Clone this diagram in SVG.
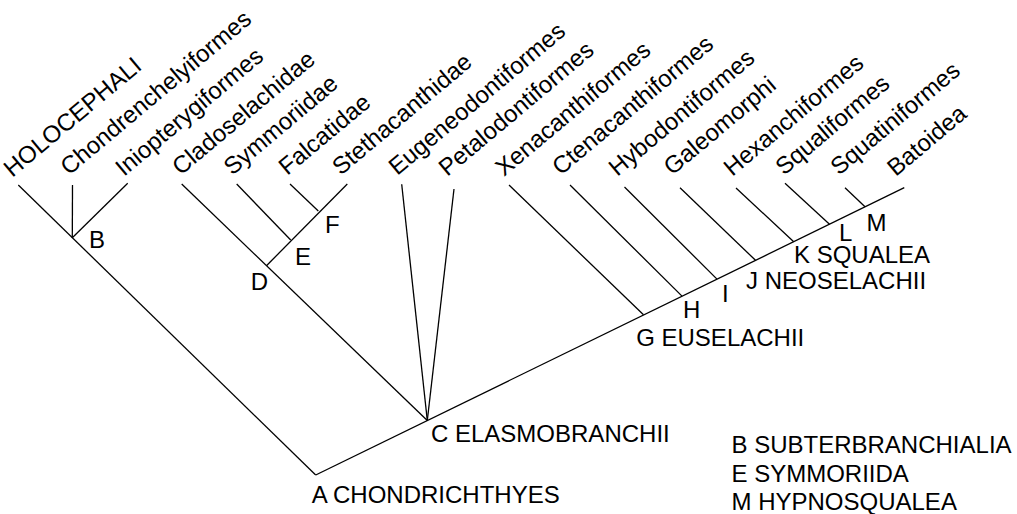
<svg xmlns="http://www.w3.org/2000/svg" width="1017" height="514" viewBox="0 0 1017 514">
<style>
text{font-family:"Liberation Sans",Arial,Helvetica,sans-serif;font-size:24px;fill:#000}
.e line{stroke:#000;stroke-width:1.3;fill:none;stroke-linecap:butt}
</style>
<rect width="1017" height="514" fill="#fff"/>
<g id="connectors" class="e">
<line x1="315.7" y1="475" x2="904.3" y2="187.7"/>
<line x1="315.7" y1="475" x2="18.3" y2="185"/>
<line x1="72.3" y1="237.7" x2="72.5" y2="185"/>
<line x1="72.3" y1="237.7" x2="127.7" y2="183.3"/>
<line x1="427.3" y1="420.5" x2="181.7" y2="184"/>
<line x1="266.7" y1="265.5" x2="347.3" y2="184"/>
<line x1="290.7" y1="240" x2="236.7" y2="184"/>
<line x1="318.3" y1="211" x2="290" y2="184"/>
<line x1="427.3" y1="420.5" x2="401.7" y2="184.3"/>
<line x1="427.3" y1="420.5" x2="454" y2="189"/>
<line x1="643.5" y1="314.8" x2="509" y2="185"/>
<line x1="682" y1="296.1" x2="570" y2="185"/>
<line x1="717" y1="279.1" x2="624.5" y2="187"/>
<line x1="755.5" y1="260.3" x2="680" y2="187.7"/>
<line x1="793.7" y1="241.7" x2="736" y2="188"/>
<line x1="829.5" y1="224.2" x2="785" y2="183.3"/>
<line x1="865" y1="206.8" x2="845" y2="187.7"/>
</g>
<g id="HOLOCEPHALI"><text transform="translate(12.3,178) rotate(-40)">HOLOCEPHALI</text></g>
<g id="Chondrenchelyiformes"><text transform="translate(69,176) rotate(-40)">Chondrenchelyiformes</text></g>
<g id="Iniopterygiformes"><text transform="translate(124,177) rotate(-40)">Iniopterygiformes</text></g>
<g id="Cladoselachidae"><text transform="translate(180.7,176) rotate(-40)">Cladoselachidae</text></g>
<g id="Symmoriidae"><text transform="translate(232.3,176) rotate(-40)">Symmoriidae</text></g>
<g id="Falcatidae"><text transform="translate(287.3,176) rotate(-40)">Falcatidae</text></g>
<g id="Stethacanthidae"><text transform="translate(340.7,176) rotate(-40)">Stethacanthidae</text></g>
<g id="Eugeneodontiformes"><text transform="translate(397.3,176) rotate(-40)">Eugeneodontiformes</text></g>
<g id="Petalodontiformes"><text transform="translate(447.3,177) rotate(-40)">Petalodontiformes</text></g>
<g id="Xenacanthiformes"><text transform="translate(504,177) rotate(-40)">Xenacanthiformes</text></g>
<g id="Ctenacanthiformes"><text transform="translate(560.7,176) rotate(-40)">Ctenacanthiformes</text></g>
<g id="Hybodontiformes"><text transform="translate(617.3,177) rotate(-40)">Hybodontiformes</text></g>
<g id="Galeomorphi"><text transform="translate(672.3,176) rotate(-40)">Galeomorphi</text></g>
<g id="Hexanchiformes"><text transform="translate(732.3,177) rotate(-40)">Hexanchiformes</text></g>
<g id="Squaliformes"><text transform="translate(784,176) rotate(-40)">Squaliformes</text></g>
<g id="Squatiniformes"><text transform="translate(839,176) rotate(-40)">Squatiniformes</text></g>
<g id="Batoidea"><text transform="translate(895.7,177) rotate(-40)">Batoidea</text></g>
<g id="node-A"><text x="311.7" y="503.3">A CHONDRICHTHYES</text></g>
<g id="node-B"><text x="89" y="248.3">B</text></g>
<g id="node-C"><text x="431" y="441.7">C ELASMOBRANCHII</text></g>
<g id="node-D"><text x="250.8" y="290">D</text></g>
<g id="node-E"><text x="294.9" y="265">E</text></g>
<g id="node-F"><text x="324.9" y="233.3">F</text></g>
<g id="node-G"><text x="636.2" y="346">G EUSELACHII</text></g>
<g id="node-H"><text x="683" y="318.3">H</text></g>
<g id="node-I"><text x="722" y="301.7">I</text></g>
<g id="node-J"><text x="746" y="289.3">J NEOSELACHII</text></g>
<g id="node-K"><text x="794" y="263.3">K SQUALEA</text></g>
<g id="node-L"><text x="839" y="240.7">L</text></g>
<g id="node-M"><text x="866.5" y="230.7">M</text></g>
<g id="legend">
<text x="731.5" y="453.3">B SUBTERBRANCHIALIA</text>
<text x="731.5" y="481.7">E SYMMORIIDA</text>
<text x="731.5" y="510">M HYPNOSQUALEA</text>
</g>
</svg>
